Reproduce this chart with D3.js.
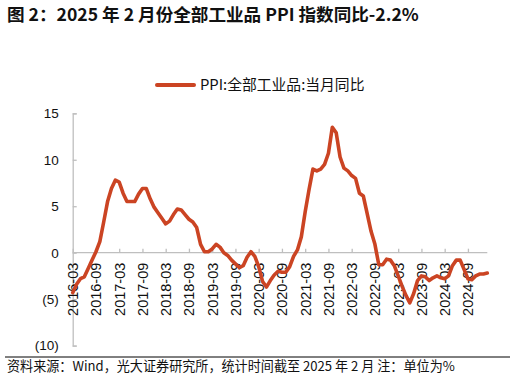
<!DOCTYPE html>
<html><head><meta charset="utf-8">
<script src="https://cdn.jsdelivr.net/npm/d3@7"></script>
<style>
html,body{margin:0;padding:0;background:#fff;}
svg{display:block;}
</style></head>
<body>
<svg id="c" width="516" height="378"></svg>
<script>
const titleText = "图 2：2025 年 2 月份全部工业品 PPI 指数同比-2.2%";
const legendLabel = "PPI:全部工业品:当月同比";
const sourceText = "资料来源：Wind，光大证券研究所，统计时间截至 2025 年 2 月  注：单位为%";
const months = ["2016-03","2016-04","2016-05","2016-06","2016-07","2016-08","2016-09","2016-10","2016-11","2016-12",
"2017-01","2017-02","2017-03","2017-04","2017-05","2017-06","2017-07","2017-08","2017-09","2017-10","2017-11","2017-12",
"2018-01","2018-02","2018-03","2018-04","2018-05","2018-06","2018-07","2018-08","2018-09","2018-10","2018-11","2018-12",
"2019-01","2019-02","2019-03","2019-04","2019-05","2019-06","2019-07","2019-08","2019-09","2019-10","2019-11","2019-12",
"2020-01","2020-02","2020-03","2020-04","2020-05","2020-06","2020-07","2020-08","2020-09","2020-10","2020-11","2020-12",
"2021-01","2021-02","2021-03","2021-04","2021-05","2021-06","2021-07","2021-08","2021-09","2021-10","2021-11","2021-12",
"2022-01","2022-02","2022-03","2022-04","2022-05","2022-06","2022-07","2022-08","2022-09","2022-10","2022-11","2022-12",
"2023-01","2023-02","2023-03","2023-04","2023-05","2023-06","2023-07","2023-08","2023-09","2023-10","2023-11","2023-12",
"2024-01","2024-02","2024-03","2024-04","2024-05","2024-06","2024-07","2024-08","2024-09","2024-10","2024-11","2024-12",
"2025-01","2025-02"];
const ppiValues = [-4.3,-3.4,-2.8,-2.6,-1.7,-0.8,0.1,1.2,3.3,5.5,
6.9,7.8,7.6,6.4,5.5,5.5,5.5,6.3,6.9,6.9,5.8,4.9,
4.3,3.7,3.1,3.4,4.1,4.7,4.6,4.1,3.6,3.3,2.7,0.9,
0.1,0.1,0.4,0.9,0.6,0.0,-0.3,-0.8,-1.2,-1.6,-1.4,-0.5,
0.1,-0.4,-1.5,-3.1,-3.7,-3.0,-2.4,-2.0,-2.1,-2.1,-1.5,-0.4,
0.3,1.7,4.4,6.8,9.0,8.8,9.0,9.5,10.7,13.5,12.9,10.3,
9.1,8.8,8.3,8.0,6.4,6.1,4.2,2.3,0.9,-1.3,-1.3,-0.7,
-0.8,-1.4,-2.5,-3.6,-4.6,-5.4,-4.4,-3.0,-2.5,-2.6,-3.0,-2.7,
-2.5,-2.7,-2.8,-2.5,-1.4,-0.8,-0.8,-1.8,-2.8,-2.9,-2.5,-2.3,
-2.3,-2.2];
const xTickLabels = ["2016-03","2016-09","2017-03","2017-09","2018-03","2018-09","2019-03","2019-09",
"2020-03","2020-09","2021-03","2021-09","2022-03","2022-09","2023-03","2023-09","2024-03","2024-09"];
const yTicks = [15,10,5,0,-5,-10];

const svg = d3.select("#c");
const cjk = "'Noto Sans CJK SC','Noto Sans',sans-serif";
const latin = "'Liberation Sans',Arial,sans-serif";

const x = d3.scalePoint().domain(months).range([72.7, 487.3]);
const y = d3.scaleLinear().domain([-10, 15]).range([345.6, 113.3]);
const axisColor = "#bfbfbf";

// title
svg.append("text").attr("x", 7).attr("y", 20.5)
  .attr("font-family", cjk).attr("font-weight", "bold").attr("font-size", 17.6)
  .attr("fill", "#111").text(titleText);

// legend
svg.append("line").attr("x1", 157).attr("x2", 194).attr("y1", 85).attr("y2", 85)
  .attr("stroke", "#CB4423").attr("stroke-width", 4).attr("stroke-linecap", "round");
svg.append("text").attr("x", 200).attr("y", 90)
  .attr("font-family", cjk).attr("font-size", 14.8).attr("fill", "#111").text(legendLabel);

// y axis
const yAxis = d3.axisLeft(y).tickValues(yTicks).tickSize(-4).tickPadding(16)
  .tickFormat(d => d < 0 ? "(" + Math.abs(d) + ")" : d);
const gy = svg.append("g").attr("transform", "translate(72.7,0)").call(yAxis);
gy.select(".domain").attr("stroke", axisColor).attr("stroke-width", 1.3);
gy.selectAll(".tick line").attr("stroke", axisColor).attr("stroke-width", 1.3);
gy.selectAll(".tick text").attr("font-family", latin).attr("font-size", 13.5).attr("fill", "#111");
gy.selectAll(".tick text").attr("x", -14);

// x axis at y=0
const xAxis = d3.axisBottom(x).tickValues(xTickLabels).tickSize(-4).tickPadding(0);
const gx = svg.append("g").attr("transform", `translate(0,${y(0)})`).call(xAxis);
gx.select(".domain").attr("stroke", axisColor).attr("stroke-width", 1.3)
  .attr("d", `M${x(months[0])},0H${x(months[months.length-1])}`);
gx.selectAll(".tick line").attr("stroke", axisColor).attr("stroke-width", 1.3);
gx.selectAll(".tick text")
  .attr("font-family", latin).attr("font-size", 14.5).attr("fill", "#111")
  .attr("text-anchor", "end").attr("dy", null).attr("y", null).attr("x", null)
  .attr("transform", "translate(5,10) rotate(-90)");

// line
const line = d3.line().x((d, i) => x(months[i])).y(d => y(d));
svg.append("path").datum(ppiValues).attr("d", line)
  .attr("fill", "none").attr("stroke", "#CB4423").attr("stroke-width", 3.6)
  .attr("stroke-linejoin", "round").attr("stroke-linecap", "round");

// bottom rule + source
svg.append("line").attr("x1", 5).attr("x2", 510).attr("y1", 357).attr("y2", 357)
  .attr("stroke", "#000").attr("stroke-width", 1);
svg.append("text").attr("x", 7).attr("y", 371)
  .attr("font-family", cjk).attr("font-size", 13.1).attr("fill", "#111").text(sourceText);
</script>
</body></html>
